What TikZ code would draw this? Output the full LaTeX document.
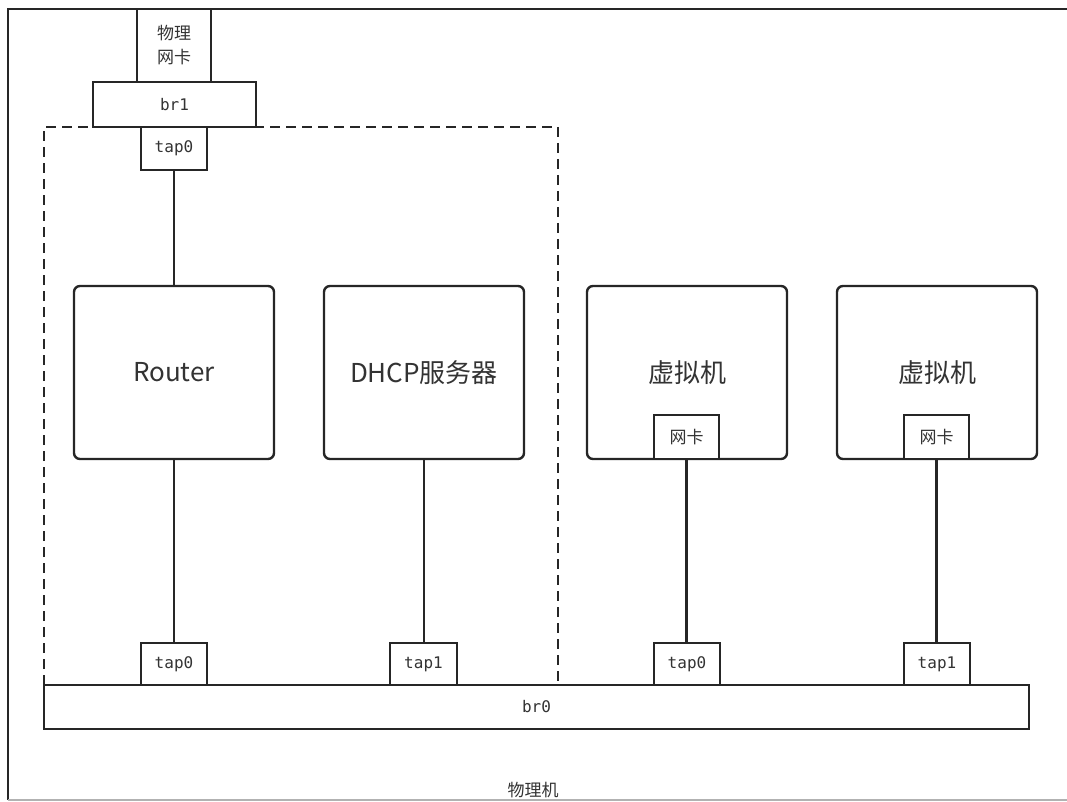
\documentclass[tikz,border=0pt]{standalone}
\usepackage{fontspec}
\setmainfont{Noto Sans CJK SC}
\newfontfamily\labfont{DejaVu Sans Mono}
\begin{document}
\begin{tikzpicture}[x=1pt,y=-1pt,
  line width=2.4pt,
  every node/.style={inner sep=0pt, outer sep=0pt, text=black!80},
  sq/.style={draw=black!85, fill=white, line width=2.4pt},
  host/.style={draw=black!85, fill=white, line width=2.4pt, rounded corners=6pt,
     minimum width=200pt, minimum height=173pt, font=\fontsize{26}{30}\selectfont},
  lab/.style={font=\labfont\fontsize{16}{18}\selectfont},
  cjk/.style={font=\fontsize{17}{20}\selectfont},
  wire/.style={draw=black!85, line width=2.4pt},
  frame/.style={draw=black!85, line width=2.4pt}]
\useasboundingbox (0,0) rectangle (1067,802);
% outer physical machine frame
\draw[frame] (8,800) -- (8,9) -- (1067,9);
\draw[draw=black!30, line width=1.5pt] (8,800) -- (1067,800);
\node[cjk] (pm) at (533,790) {物理机};
% dashed group
\draw[draw=black!85, line width=2.4pt, dash pattern=on 10pt off 6pt] (44,685) -- (44,127) -- (558,127) -- (558,685);
% top
\node[sq, cjk, minimum width=74pt, minimum height=73pt, align=center] (nic) at (174,45.5) {物理\\[4pt]网卡};
\node[sq, lab, minimum width=163pt, minimum height=45pt] (br1) at (174.5,104.5) {br1};
\node[sq, lab, minimum width=66pt, minimum height=43pt] (ttap) at (174,148.5) {tap0};
% hosts
\node[host] (router) at (174,372.5) {Router};
\node[host] (dhcp) at (424,372.5) {DHCP服务器};
\node[host] (vm1) at (687,372.5) {};
\node[host] (vm2) at (937,372.5) {};
\node[font=\fontsize{26}{30}\selectfont] (vm1t) at (687,373) {虚拟机};
\node[font=\fontsize{26}{30}\selectfont] (vm2t) at (937,373) {虚拟机};
\node[sq, cjk, minimum width=65pt, minimum height=44pt] (nic1) at (686.5,437) {网卡};
\node[sq, cjk, minimum width=65pt, minimum height=44pt] (nic2) at (936.5,437) {网卡};
% bottom bridge and taps
\node[sq, lab, minimum width=985pt, minimum height=44pt] (br0) at (536.5,707) {br0};
\node[sq, lab, minimum width=66pt, minimum height=42pt] (b1) at (174,664) {tap0};
\node[sq, lab, minimum width=67pt, minimum height=42pt] (b2) at (423.5,664) {tap1};
\node[sq, lab, minimum width=66pt, minimum height=42pt] (b3) at (687,664) {tap0};
\node[sq, lab, minimum width=66pt, minimum height=42pt] (b4) at (937,664) {tap1};
% wires
\draw[wire] (ttap.south) -- (router.north);
\draw[wire] (router.south) -- (b1.north);
\draw[wire] (dhcp.south) -- (b2.north -| dhcp.south);
\draw[wire] (nic1.south) -- (b3.north -| nic1.south);
\draw[wire] (nic2.south) -- (b4.north -| nic2.south);
\end{tikzpicture}
\end{document}
